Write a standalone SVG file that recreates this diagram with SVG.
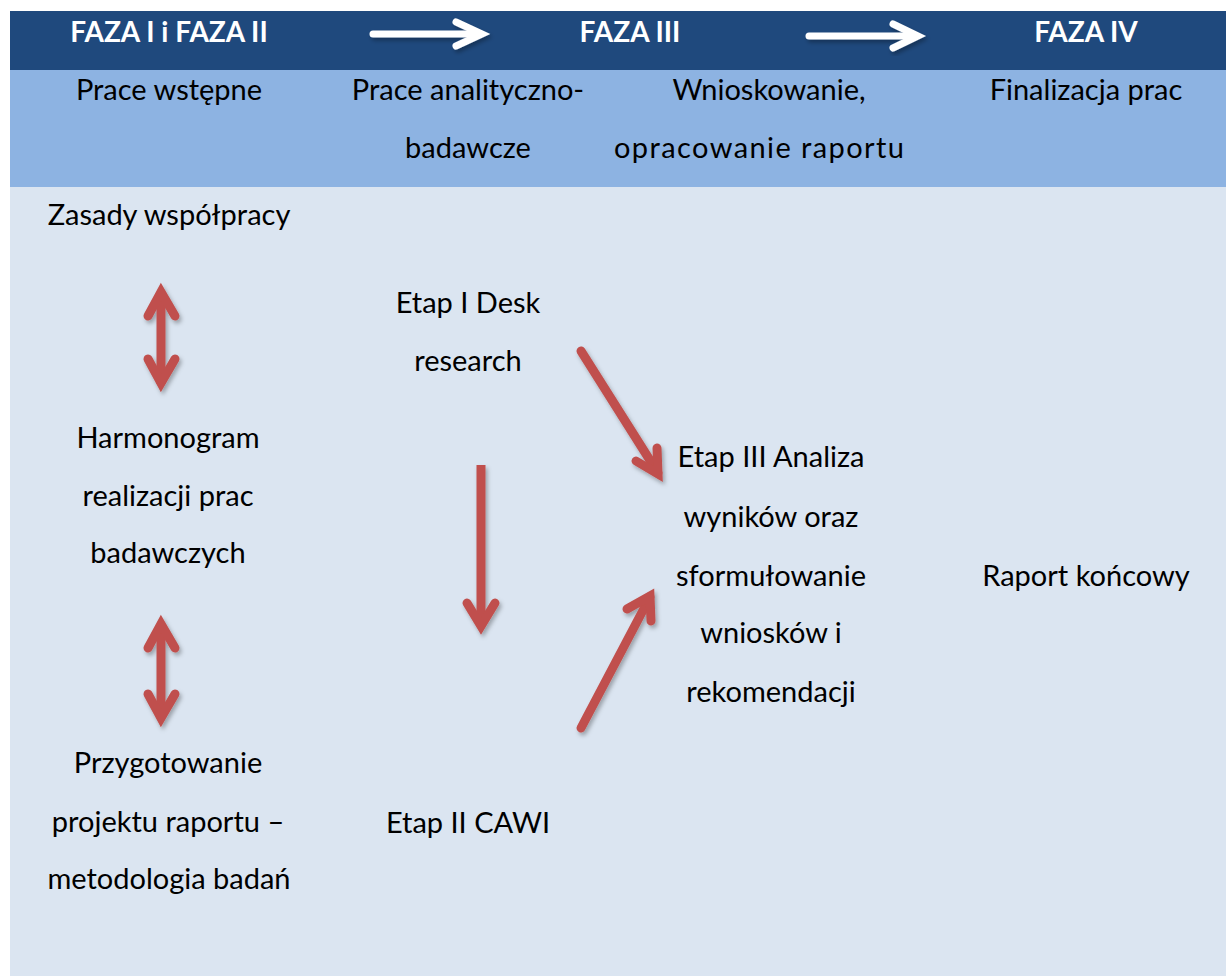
<svg xmlns="http://www.w3.org/2000/svg" width="1226" height="976" viewBox="0 0 1226 976">
  <style>
    .hd { font-family: Lato, "Open Sans", sans-serif; font-weight: bold; font-size: 28px; fill: #FFFFFF; text-anchor: middle; }
    .tx { font-family: Lato, "Open Sans", sans-serif; font-size: 29px; fill: #000000; text-anchor: middle; }
    .red { fill: none; stroke: #C0504D; stroke-width: 9; }
    .redhead { fill: none; stroke: #C0504D; stroke-width: 9; stroke-linecap: round; stroke-linejoin: miter; stroke-miterlimit: 10; }
    .wht { fill: none; stroke: #FFFFFF; stroke-width: 7; stroke-linecap: round; }
    .whthead { fill: none; stroke: #FFFFFF; stroke-width: 7; stroke-linecap: round; stroke-linejoin: miter; stroke-miterlimit: 10; }
  </style>
  <defs>
    <filter id="sh" x="-30%" y="-30%" width="160%" height="160%">
      <feDropShadow dx="2" dy="3" stdDeviation="2" flood-color="#000000" flood-opacity="0.3"/>
    </filter>
  </defs>
  <rect x="0" y="0" width="1226" height="976" fill="#FFFFFF"/>
  <g id="background">
    <rect x="10" y="11" width="1216" height="59" fill="#1F497D"/>
    <rect x="10" y="70" width="1216" height="117" fill="#8DB3E2"/>
    <rect x="10" y="187" width="1216" height="789" fill="#DBE5F1"/>
  </g>
  <g id="header">
    <text class="hd" x="169" y="42">FAZA I i FAZA II</text>
    <text class="hd" x="630" y="42">FAZA III</text>
    <text class="hd" x="1086" y="42">FAZA IV</text>
  </g>
  <g id="subheader">
    <text class="tx" x="169" y="100">Prace wstępne</text>
    <text class="tx" x="468" y="100">Prace analityczno-</text>
    <text class="tx" x="468" y="158">badawcze</text>
    <text class="tx" x="769" y="100">Wnioskowanie,</text>
    <text class="tx" x="759" y="158" textLength="290" lengthAdjust="spacing">opracowanie raportu</text>
    <text class="tx" x="1086" y="100">Finalizacja prac</text>
  </g>
  <g id="node-zasady"><text class="tx" x="169" y="225">Zasady współpracy</text></g>
  <g id="node-harmonogram">
    <text class="tx" x="168" y="448">Harmonogram</text>
    <text class="tx" x="168" y="506">realizacji prac</text>
    <text class="tx" x="168" y="563">badawczych</text>
  </g>
  <g id="node-przygotowanie">
    <text class="tx" x="168" y="773">Przygotowanie</text>
    <text class="tx" x="168" y="832">projektu raportu –</text>
    <text class="tx" x="169" y="889">metodologia badań</text>
  </g>
  <g id="node-etap1">
    <text class="tx" x="468" y="313">Etap I Desk</text>
    <text class="tx" x="468" y="371">research</text>
  </g>
  <g id="node-etap2"><text class="tx" x="468" y="833">Etap II CAWI</text></g>
  <g id="node-etap3">
    <text class="tx" x="771" y="467">Etap III Analiza</text>
    <text class="tx" x="771" y="527">wyników oraz</text>
    <text class="tx" x="771" y="586">sformułowanie</text>
    <text class="tx" x="771" y="643">wniosków i</text>
    <text class="tx" x="771" y="702">rekomendacji</text>
  </g>
  <g id="node-raport"><text class="tx" x="1086" y="586">Raport końcowy</text></g>
  <g id="connectors">
    <g id="phase-arrows" filter="url(#sh)">
      <line class="wht" x1="373" y1="34" x2="480" y2="34"/>
      <polyline class="whthead" points="456,22 482,34 456,46"/>
      <line class="wht" x1="809" y1="36" x2="916" y2="36"/>
      <polyline class="whthead" points="893,24 918,36 893,48"/>
    </g>
    <g filter="url(#sh)">
      <line class="red" x1="161" y1="292" x2="161" y2="384"/>
      <polyline class="redhead" points="148,316 161,292 175,316"/>
      <polyline class="redhead" points="148,359 161,383 175,359"/>
      <line class="red" x1="161" y1="624" x2="161" y2="718"/>
      <polyline class="redhead" points="148,648 161,624 175,648"/>
      <polyline class="redhead" points="148,694 161,718 175,694"/>
      <line class="red" x1="481" y1="465" x2="481" y2="625"/>
      <polyline class="redhead" points="467,603 481,626 495,603"/>
      <line class="red" x1="581" y1="351" x2="658" y2="473" stroke-linecap="round"/>
      <polyline class="redhead" points="636,461 658,474 657,448"/>
      <line class="red" x1="581" y1="728" x2="650" y2="597" stroke-linecap="round"/>
      <polyline class="redhead" points="627,609 650,596 651,621"/>
    </g>
  </g>
</svg>
